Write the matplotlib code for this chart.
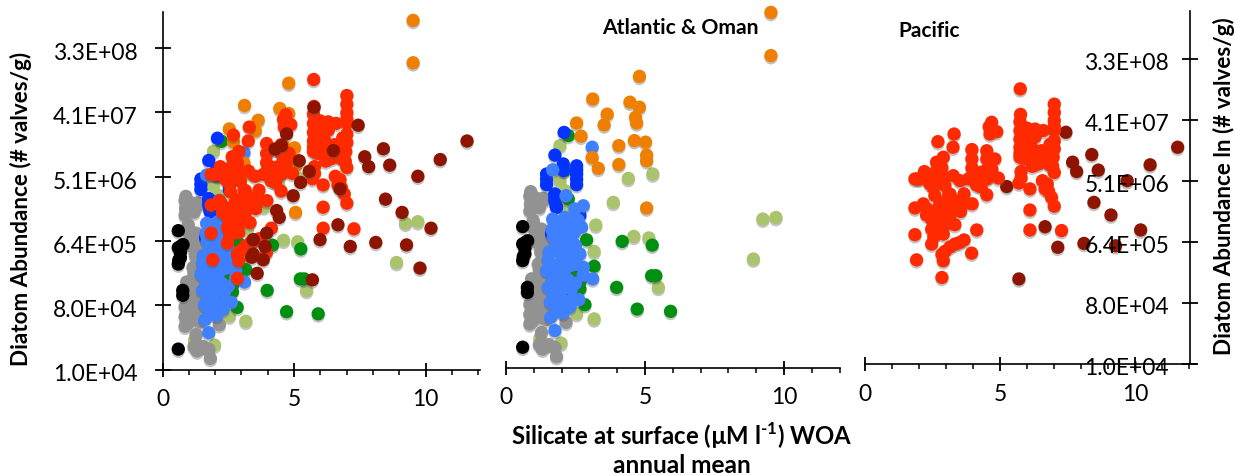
import numpy as np
import matplotlib
matplotlib.use("Agg")
import matplotlib.pyplot as plt
import matplotlib.patheffects as pe
from matplotlib.transforms import ScaledTranslation

plt.rcParams['font.family'] = ['Lato', 'DejaVu Sans']
plt.rcParams['mathtext.fontset'] = 'custom'
plt.rcParams['mathtext.bf'] = 'Lato:bold'
plt.rcParams['mathtext.rm'] = 'Lato:bold'

# y values are natural logs of abundance
red_x = [5.75,7.01,7.01,7.01,4.69,4.88,4.63,5.74,5.74,5.74,6.30,6.60,7.01,7.01,3.30,2.70,3.26,3.96,3.96,4.51,4.81,4.57,
         5.74,5.74,6.05,6.54,6.97,6.42,6.11,6.91,5.78,5.70,7.01,2.90,2.65,2.65,2.20,1.85,2.04,2.53,2.53,2.96,3.27,3.52,
         4.01,4.20,4.14,3.83,4.94,4.51,4.51,6.11,6.57,6.67,6.91,2.59,3.67,3.33,2.94,1.85,2.16,2.28,2.90,3.54,3.97,7.01,
         6.11,2.47,2.90,3.33,2.47,2.90,2.47,4.14,1.85,6.11,7.28,3.67,3.33,2.96,2.90,3.95,1.91,2.85,3.15,2.70,3.15,
         5.76,7.01,7.01,6.00,5.90,6.25,6.70,6.85,5.74,6.95,6.20,4.60,4.51,4.70,4.10,3.96,4.30,4.60,2.85,2.70,2.90,2.35,
         3.10,3.10,3.30,2.75,2.60,2.90,3.70,3.05,2.60,2.55,3.15,3.50,2.85,5.78,6.75,6.80,4.30,2.75,2.40,2.30,1.95,
         6.10,6.15,6.85,6.55,6.30]
red_y = [18.59,18.07,17.79,17.51,17.45,17.13,17.05,17.47,17.17,16.88,17.22,17.17,17.17,16.82,17.05,16.79,16.60,16.52,16.20,16.48,16.20,15.91,
         16.60,16.26,16.48,16.48,16.26,16.03,16.26,16.54,15.77,15.38,15.74,16.26,16.09,15.80,15.77,15.52,15.52,15.52,15.23,15.29,15.63,15.46,
         15.72,15.69,15.31,15.52,15.55,15.52,14.98,15.18,15.46,15.18,14.89,14.95,15.01,14.78,14.72,14.53,14.67,14.29,14.44,14.41,14.67,14.59,
         14.46,14.15,13.98,13.96,13.81,13.64,13.30,13.78,13.62,13.78,13.76,13.44,13.30,13.05,12.73,12.99,12.76,12.16,14.30,14.00,15.00,
         17.72,17.30,16.55,17.25,16.20,16.15,16.10,16.00,16.40,15.95,15.95,17.30,16.20,15.85,15.40,15.90,15.25,15.60,15.90,15.45,15.60,15.60,
         15.00,14.80,14.55,14.60,14.35,14.20,14.70,14.00,13.85,13.55,13.20,13.35,12.95,15.55,15.35,15.10,15.75,16.00,15.35,14.50,15.52,
         16.90,16.65,16.70,16.45,16.95]
darkred_x = [7.44,8.40,7.69,7.84,8.64,10.56,11.58,9.71,5.25,8.48,9.11,10.21,6.67,7.14,8.11,9.28,5.70]
darkred_y = [17.11,16.35,16.09,15.77,15.82,16.00,16.60,15.46,15.26,14.72,14.29,13.78,13.89,13.19,13.32,13.24,12.11]
darkred_extra_x = [4.53,4.28,4.72,5.76,5.20,5.58,4.97,6.50,6.75,4.34,4.44,3.96,3.45,3.90,3.45,3.39,3.83,5.99,3.60,9.79]
darkred_extra_y = [16.45,16.34,16.83,17.69,15.96,15.62,14.83,16.29,15.05,14.35,14.13,13.62,13.41,13.19,12.94,12.84,12.76,13.41,12.32,12.49]

orange_x = [9.53,9.53,4.80,3.12,4.46,4.80,3.64,4.66,4.70,3.53,2.54,2.70,4.06,4.62,5.02,5.06,5.06,3.10,3.32,4.06,5.06]
orange_y = [20.50,19.13,18.47,17.75,17.65,17.49,17.27,17.17,16.99,16.93,16.99,16.57,16.27,16.43,16.38,15.97,15.79,15.89,15.55,15.67,14.29]

blue_x = [2.09,1.76,1.46,2.06,2.06,1.46,2.54,2.54,2.54,1.76,1.76,1.82,2.66,1.64,1.76,1.80,2.20,1.64,2.54,2.54,1.76,1.46]
blue_y = [16.69,15.97,15.37,15.69,15.48,15.03,15.63,15.37,15.03,14.73,14.52,14.31,14.05,13.47,14.73,14.36,13.15,13.50,15.50,15.20,14.60,15.20]

ltblue_x = [3.10,1.68,2.16,2.78,2.48,1.68,2.12,2.48,2.72,2.24,1.94,1.82,2.12,1.76,2.00,2.66,2.36,1.52,2.30,2.78,1.46,1.82,
            2.78,3.12,1.76,2.12,1.52,1.82,2.36,1.82,2.62,1.76,2.16,2.06,1.61,1.76,
            1.65,1.95,2.30,1.70,2.00,1.90,1.55,1.65,2.00,2.10,1.65,1.95,1.65,2.00,1.70,1.95,1.60,2.00,1.90,2.30,1.95,2.45,
            2.40,2.55,2.50,2.40,2.25,2.30,2.50,2.60]
ltblue_y = [16.22,15.50,14.68,14.36,14.26,13.94,13.99,13.99,13.68,13.57,13.57,13.20,13.30,12.93,12.83,12.83,12.72,12.65,12.46,12.41,12.30,12.35,
            12.16,12.04,12.09,12.09,11.77,11.77,11.72,11.45,11.38,11.19,11.24,10.96,10.82,10.40,
            13.60,13.85,13.80,13.35,13.25,12.95,12.90,12.50,12.55,12.30,12.20,12.00,11.95,11.70,11.55,11.45,11.30,11.20,11.00,11.15,13.55,13.50,
            13.20,12.50,11.90,11.40,12.00,13.00,13.10,13.90]

green_x = [2.24,2.12,2.24,2.90,4.18,5.26,3.17,5.24,5.39,3.98,4.72,5.92,2.84,2.66,2.66,2.48,2.30,2.12,2.20]
green_y = [16.59,15.48,14.58,13.28,13.23,13.11,12.44,12.14,12.14,11.77,11.08,11.01,11.22,11.93,11.72,12.25,11.72,12.46,13.20]

olive_x = [1.94,1.94,4.40,5.28,2.12,3.86,9.24,9.71,8.90,3.23,4.60,5.14,3.17,5.48,2.54,3.17,1.22,1.98,2.12,2.06]
olive_y = [16.27,15.16,15.23,15.37,14.84,14.47,13.94,13.99,12.67,13.75,13.39,13.34,12.91,11.77,10.94,10.77,10.16,10.00,14.31,11.51]

gray_x = [0.89,1.34,0.86,0.88,0.86,1.34,0.98,1.28,1.04,1.46,0.98,1.28,1.34,1.16,1.34,0.92,1.16,1.04,1.46,0.86,1.28,0.86,1.34,
          0.86,2.16,1.28,1.32,1.76,1.82,1.58,
          1.10,1.20,0.95,1.05,1.20,1.40,1.10,1.25,1.45,1.30,1.50,1.20,1.45,0.95,1.20,1.40,1.00,1.25,1.00,1.45,1.10,1.55,1.10,1.45,0.95,1.60,1.55,1.20]
gray_y = [14.81,14.60,14.68,14.42,14.20,14.52,13.89,13.62,13.57,13.52,13.31,13.15,12.93,12.51,12.35,12.04,12.09,11.72,11.51,11.24,11.24,10.92,10.92,
          10.61,10.66,10.34,9.81,9.87,9.57,11.20,
          14.60,14.30,14.50,13.70,13.40,13.30,13.20,12.90,13.00,12.65,12.50,12.30,12.20,11.85,11.85,11.90,11.50,11.50,11.25,11.25,11.00,11.00,10.80,10.75,10.75,11.50,9.95,9.95]

black_x = [0.60,0.78,0.60,0.68,0.60,0.77,0.77,0.60,0.68,0.70,0.62]
black_y = [13.70,13.25,13.15,12.83,12.62,11.77,11.61,9.87,13.00,13.20,12.75]

y_tick_values = [1.0e4, 8.0e4, 6.4e5, 5.12e6, 4.096e7, 3.2768e8]
y_tick_labels = ['1.0E+04', '8.0E+04', '6.4E+05', '5.1E+06', '4.1E+07', '3.3E+08']
x_major = [0, 5, 10]
x_minor = [1, 2, 3, 4, 6, 7, 8, 9, 11, 12]

C = dict(red='#FF2A00', darkred='#8C1400', orange='#EE7F00', blue='#0433FF', ltblue='#3F80FF',
         green='#008F11', olive='#A9C46C', gray='#929292', black='#000000')

W, H = 1245, 477
fig = plt.figure(figsize=(W/100, H/100), dpi=100, facecolor='white')

def axes_px(x0, x1, ytop, ybot):
    ax = fig.add_axes([x0/W, 1-ybot/H, (x1-x0)/W, (ybot-ytop)/H])
    ax.patch.set_visible(False)
    for s in ax.spines.values():
        s.set_visible(False)
    return ax

shadow = [pe.SimplePatchShadow(offset=(0, -1.6), shadow_rgbFace='#555555', alpha=0.35), pe.Normal()]

def dots(ax, x, y, name):
    ax.scatter(x, y, s=92, c=C[name], linewidths=0, clip_on=False, path_effects=shadow)

def atlantic(ax):
    dots(ax, olive_x, olive_y, 'olive')
    dots(ax, gray_x, gray_y, 'gray')
    dots(ax, black_x, black_y, 'black')
    dots(ax, green_x, green_y, 'green')
    dots(ax, blue_x, blue_y, 'blue')
    dots(ax, ltblue_x, ltblue_y, 'ltblue')
    dots(ax, orange_x, orange_y, 'orange')

def style_x(ax, pad):
    s = ax.spines['bottom']
    s.set_visible(True)
    s.set_linewidth(1.2)
    ax.set_xticks(x_major)
    ax.set_xticks(x_minor, minor=True)
    ax.tick_params(axis='x', which='major', direction='inout', length=10, width=1.3, labelsize=16.5, pad=pad)
    ax.tick_params(axis='x', which='minor', direction='out', length=3.6, width=1.1)

def style_y(ax, pad, down):
    s = ax.spines['left']
    s.set_visible(True)
    s.set_linewidth(1.2)
    ax.set_yticks(np.log(y_tick_values))
    ax.set_yticklabels(y_tick_labels, fontsize=16.5, va='center')
    ax.tick_params(axis='y', direction='inout', length=12, width=1.3, pad=pad)
    off = ScaledTranslation(0, -down/72, fig.dpi_scale_trans)
    for lab in ax.get_yticklabels():
        lab.set_transform(lab.get_transform() + off)

# left panel: everything
ax1 = axes_px(162.5, 480, 13, 370.5)
ax1.set_xlim(0, (480-162.5)/26.3)
ax1.set_ylim(np.log(1e4), np.log(1e4)+(370.5-13)*0.03234)
atlantic(ax1)
dots(ax1, red_x, red_y, 'red')
dots(ax1, darkred_x, darkred_y, 'darkred')
dots(ax1, darkred_extra_x, darkred_extra_y, 'darkred')
style_x(ax1, 8)
style_y(ax1, 12, 3.2)
ax1.set_xlim(0, (480-162.5)/26.3)

# middle panel: Atlantic & Oman
ax2 = axes_px(506, 840, 5, 369)
ax2.set_xlim(0, (840-506)/27.8)
ax2.set_ylim(np.log(1e4), np.log(1e4)+(369-5)*0.03175)
atlantic(ax2)
style_x(ax2, 8)
ax2.set_yticks([])
ax2.set_xlim(0, (840-506)/27.8)

# right panel: Pacific
ax3 = axes_px(865, 1196, 12, 365)
ax3.set_xlim(0, (1196-865)/27)
ax3.set_ylim(np.log(1e4), np.log(1e4)+(365-12)*0.03409)
dots(ax3, darkred_x, darkred_y, 'darkred')
dots(ax3, red_x, red_y, 'red')
style_x(ax3, 9)
ax3.set_yticks([])
ax3.set_xlim(0, (1196-865)/27)

ax3y = axes_px(1190, 1192, 12, 365)
ax3y.set_ylim(ax3.get_ylim())
ax3y.set_xticks([])
style_y(ax3y, 9, 2.6)

fig.text(602/W, 1-28/H, 'Atlantic & Oman', fontsize=15.2, fontweight='bold', ha='left', va='center')
fig.text(898/W, 1-31/H, 'Pacific', fontsize=15, fontweight='bold', ha='left', va='center')
fig.text(21/W, 1-209/H, 'Diatom Abundance (# valves/g)', fontsize=16.2, fontweight='bold', rotation=90, ha='center', va='center')
fig.text(1224/W, 1-186/H, 'Diatom Abundance ln (# valves/g)', fontsize=16.2, fontweight='bold', rotation=90, ha='center', va='center')
fig.text(682/W, 1-436/H, r'Silicate at surface (µM l$^{\text{-1}}$) WOA', fontsize=17.2, fontweight='bold', ha='center', va='center')
fig.text(682/W, 1-466/H, 'annual mean', fontsize=17.6, fontweight='bold', ha='center', va='center')

fig.savefig('out.png', dpi=100)
